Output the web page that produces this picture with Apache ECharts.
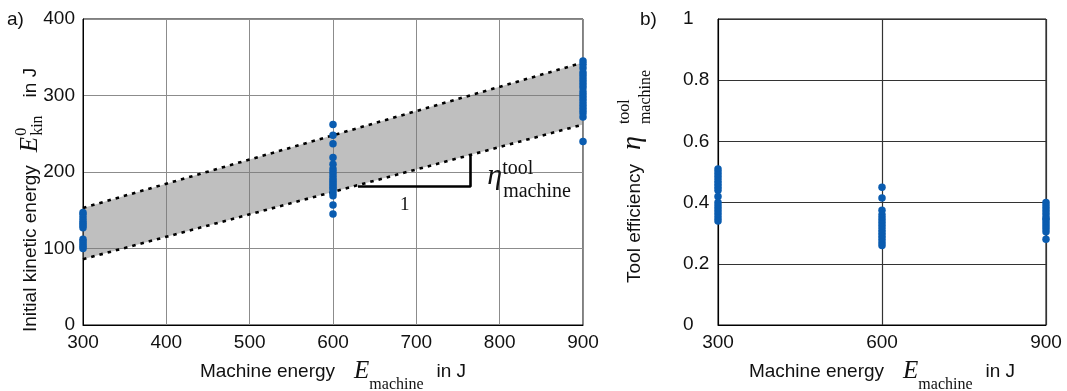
<!DOCTYPE html>
<html>
<head>
<meta charset="utf-8">
<script src="https://cdn.jsdelivr.net/npm/echarts@6/dist/echarts.min.js"></script>
<style>
html, body { margin: 0; padding: 0; background: #fff; }
#chart { width: 1067px; height: 391px; }
</style>
</head>
<body>
<div id="chart"></div>
<script>
// Machine energy settings (J) and axis ticks
const energyTicksLeft = [300, 400, 500, 600, 700, 800, 900];
const energyTicksRight = [300, 600, 900];
const ekinTicks = [0, 100, 200, 300, 400];
const etaTicks = [0, 0.2, 0.4, 0.6, 0.8, 1];

// Initial kinetic energy of the tool (J), one list per machine energy
const ekin300 = [147, 144, 140, 136, 133, 130, 127, 112, 109, 106, 103, 100];
const ekin600 = [262, 248, 237, 219, 210, 204, 200, 196, 192, 189, 186, 183, 180, 177, 173, 169, 157, 145];
const ekin900 = [345, 341, 336, 330, 326, 322, 318, 314, 310, 305, 301, 297, 293, 289, 285, 281, 277, 272, 240];

// Tool efficiency, one list per machine energy
const eta300 = [0.51, 0.50, 0.49, 0.48, 0.47, 0.46, 0.45, 0.44, 0.42, 0.40, 0.39, 0.38, 0.37, 0.36, 0.35, 0.34];
const eta600 = [0.45, 0.415, 0.375, 0.36, 0.35, 0.34, 0.33, 0.32, 0.31, 0.30, 0.29, 0.28, 0.27, 0.26];
const eta900 = [0.40, 0.39, 0.38, 0.37, 0.36, 0.35, 0.345, 0.335, 0.325, 0.315, 0.305, 0.28];

// Envelope of the kinetic energy scatter (J)
const bandX = [300, 900];
const bandLower = [86, 262];
const bandUpper = [153, 343];

// Slope triangle under the lower envelope, and its labels (data units)
const slopeTriangle = [[630, 181], [765, 181], [765, 222]];
const runLabelAt = [686, 157];
const slopeLabelAt = [785, 190];

const SANS = '"Liberation Sans", Arial, Helvetica, sans-serif';
const SERIF = '"Liberation Serif", "Times New Roman", serif';
const TXT = '#111';
const BLUE = '#0a5cb0';
const FS = 19;

const pairs = (x, ys) => ys.map(v => [x, v]);

// Rich text pieces for the x axis names (subscript by top padding)
const tokT = (pad, extra) => Object.assign({ fontFamily: SANS, fontSize: FS, color: TXT, verticalAlign: 'top', padding: [pad, 0, 0, 0] }, extra || {});
const tokI = (size, pad, extra) => Object.assign({ fontFamily: SERIF, fontStyle: 'italic', fontSize: size, color: TXT, verticalAlign: 'top', padding: [pad, 0, 0, 0] }, extra || {});
const tokR = (size, pad, extra) => Object.assign({ fontFamily: SERIF, fontSize: size, color: TXT, verticalAlign: 'top', padding: [pad, 0, 0, 0] }, extra || {});

const xName = {
  name: '{t|Machine energy}{e|E}{s|machine}{u|in J}',
  nameLocation: 'middle',
  nameGap: 31,
  nameTextStyle: {
    rich: {
      t: tokT(6),
      e: tokI(25, 3, { padding: [3, 0, 0, 19] }),
      s: tokR(16, 21),
      u: tokT(6, { padding: [6, 0, 0, 13] })
    }
  }
};

const tickLabel = { fontFamily: SANS, fontSize: FS, color: TXT };

const option = {
  backgroundColor: '#fff',
  animation: false,
  grid: [
    { left: 83, right: 484, top: 19, bottom: 66, outerBoundsMode: 'none', containLabel: false, show: true, borderColor: '#000', borderWidth: 1, backgroundColor: 'rgba(0,0,0,0)' },
    { left: 718, right: 21, top: 19, bottom: 66, outerBoundsMode: 'none', containLabel: false, show: true, borderColor: '#000', borderWidth: 1, backgroundColor: 'rgba(0,0,0,0)' }
  ],
  xAxis: [
    Object.assign({
      type: 'value', gridIndex: 0,
      min: energyTicksLeft[0], max: energyTicksLeft[energyTicksLeft.length - 1],
      interval: energyTicksLeft[1] - energyTicksLeft[0],
      axisLine: { show: true, onZero: false, lineStyle: { color: '#000', width: 1 } },
      axisTick: { show: false },
      axisLabel: Object.assign({ margin: 8 }, tickLabel),
      splitLine: { show: true, lineStyle: { color: '#8c8c8c', width: 1 } }
    }, xName),
    Object.assign({
      type: 'value', gridIndex: 1,
      min: energyTicksRight[0], max: energyTicksRight[energyTicksRight.length - 1],
      interval: energyTicksRight[1] - energyTicksRight[0],
      axisLine: { show: true, onZero: false, lineStyle: { color: '#000', width: 1 } },
      axisTick: { show: false },
      axisLabel: Object.assign({ margin: 8 }, tickLabel),
      splitLine: { show: true, lineStyle: { color: '#333', width: 1.2 } }
    }, xName)
  ],
  yAxis: [
    {
      type: 'value', gridIndex: 0,
      min: ekinTicks[0], max: ekinTicks[ekinTicks.length - 1],
      interval: ekinTicks[1] - ekinTicks[0],
      axisLine: { show: true, lineStyle: { color: '#000', width: 1 } },
      axisTick: { show: false },
      axisLabel: Object.assign({ margin: 8 }, tickLabel),
      splitLine: { show: true, lineStyle: { color: '#8c8c8c', width: 1 } }
    },
    {
      type: 'value', gridIndex: 1,
      min: etaTicks[0], max: etaTicks[etaTicks.length - 1],
      interval: etaTicks[1] - etaTicks[0],
      axisLine: { show: true, lineStyle: { color: '#000', width: 1 } },
      axisTick: { show: false },
      axisLabel: Object.assign({ align: 'left', margin: 35 }, tickLabel),
      splitLine: { show: true, lineStyle: { color: '#333', width: 1.2 } }
    }
  ],
  series: [
    {
      // grey envelope between the two dashed bounds
      name: 'envelope', type: 'custom', xAxisIndex: 0, yAxisIndex: 0,
      silent: true, z: 2,
      data: bandX.map((x, i) => [x, bandLower[i], bandUpper[i]]),
      renderItem: function (params, api) {
        if (params.dataIndex !== 0) return null;
        const lo = bandX.map((x, i) => api.coord([x, bandLower[i]]));
        const up = bandX.map((x, i) => api.coord([x, bandUpper[i]]));
        const dash = { stroke: '#000', lineWidth: 2.6, lineDash: [3.5, 5], fill: null };
        return {
          type: 'group',
          children: [
            { type: 'polygon', shape: { points: lo.concat(up.slice().reverse()) }, style: { fill: 'rgba(122,122,122,0.48)' } },
            { type: 'polyline', shape: { points: lo }, style: dash },
            { type: 'polyline', shape: { points: up }, style: dash }
          ]
        };
      }
    },
    {
      name: 'slope', type: 'line', xAxisIndex: 0, yAxisIndex: 0,
      data: slopeTriangle, symbol: 'none', silent: true, z: 3,
      lineStyle: { color: '#000', width: 2.6 }
    },
    {
      name: 'E_kin', type: 'scatter', xAxisIndex: 0, yAxisIndex: 0, z: 4,
      data: [].concat(pairs(300, ekin300), pairs(600, ekin600), pairs(900, ekin900)),
      symbolSize: 7.5, itemStyle: { color: BLUE, opacity: 1 }
    },
    {
      name: 'eta', type: 'scatter', xAxisIndex: 1, yAxisIndex: 1, z: 4,
      data: [].concat(pairs(300, eta300), pairs(600, eta600), pairs(900, eta900)),
      symbolSize: 7.5, itemStyle: { color: BLUE, opacity: 1 }
    }
  ]
};

const chart = echarts.init(document.getElementById('chart'), null, { renderer: 'canvas' });
chart.setOption(option);

// ---- text helpers -------------------------------------------------------
const measureCtx = document.createElement('canvas').getContext('2d');
function textWidth(text, font) { measureCtx.font = font; return measureCtx.measureText(text).width; }
const fontPx = font => parseFloat(font.match(/(\d+(?:\.\d+)?)px/)[1]);

// Lay out a formula-like label on one baseline; `dy` shifts a piece's baseline,
// `same` starts a piece where the previous one started (stacked sub/superscript).
function formulaLabel(pieces) {
  let cursor = 0, prevStart = 0;
  const children = pieces.map(p => {
    const start = p.same ? prevStart + (p.gap || 0) : cursor + (p.gap || 0);
    prevStart = start;
    cursor = Math.max(cursor, start + textWidth(p.text, p.font));
    return {
      type: 'text', x: start, y: (p.dy || 0) - 0.31 * fontPx(p.font), silent: true,
      style: { text: p.text, font: p.font, fill: TXT, align: 'left', verticalAlign: 'middle' }
    };
  });
  return children;
}

// Vertical axis title: baseline at screen x `bx`, reading upward from screen y `by`
const verticalTitle = (bx, by, pieces) => ({
  type: 'group', x: bx, y: by, rotation: Math.PI / 2, silent: true, z: 10,
  children: formulaLabel(pieces)
});

const F_AXIS = FS + 'px ' + SANS;
const leftTitle = verticalTitle(37, 332, [
  { text: 'Initial kinetic energy', font: F_AXIS },
  { text: 'E', font: 'italic 25px ' + SERIF, gap: 13, dy: 1 },
  { text: '0', font: '16px ' + SERIF, gap: 1, dy: -10 },
  { text: 'kin', font: '16px ' + SERIF, same: true, dy: 6 },
  { text: 'in J', font: F_AXIS, gap: 18 }
]);
const rightTitle = verticalTitle(641, 283, [
  { text: 'Tool efficiency', font: F_AXIS },
  { text: 'η', font: 'italic 28px ' + SERIF, gap: 14 },
  { text: 'tool', font: '16px ' + SERIF, gap: 12, dy: -11 },
  { text: 'machine', font: '16px ' + SERIF, same: true, dy: 10 }
]);

// Panel letters and the slope annotation text
const run = chart.convertToPixel({ gridIndex: 0 }, runLabelAt);
const eta = chart.convertToPixel({ gridIndex: 0 }, slopeLabelAt);
const txt = (x, y, text, font, align) => ({
  type: 'text', x: x, y: y, silent: true, z: 10,
  style: { text: text, font: font, fill: TXT, align: align || 'left', verticalAlign: 'middle' }
});
chart.setOption({
  graphic: [
    leftTitle,
    rightTitle,
    txt(7, 20, 'a)', F_AXIS),
    txt(640, 20, 'b)', F_AXIS),
    txt(run[0], run[1], '1', '19px ' + SERIF, 'center'),
    txt(eta[0], eta[1] - 4, 'η', 'italic 30px ' + SERIF),
    txt(eta[0] + 15, eta[1] - 11, 'tool', '20px ' + SERIF),
    txt(eta[0] + 16, eta[1] + 12, 'machine', '20px ' + SERIF)
  ]
});
</script>
</body>
</html>
